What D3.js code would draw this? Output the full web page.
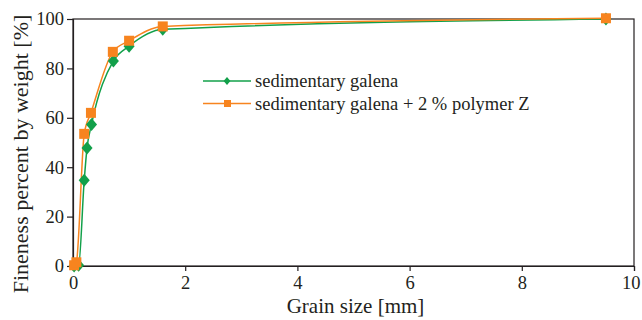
<!DOCTYPE html>
<html><head><meta charset="utf-8">
<script src="https://cdn.jsdelivr.net/npm/d3@7"></script>
</head>
<body style="margin:0"><svg id="c" width="642" height="320" font-family="Times New Roman"></svg>
<script>
const galenaX = [0.02, 0.1, 0.2, 0.25, 0.33, 0.72, 1.0, 1.6, 9.5];
const galenaY = [0, 0.3, 34.7, 47.8, 57.3, 83, 89, 95.8, 100];
const polymerX = [0.02, 0.06, 0.2, 0.32, 0.71, 1.0, 1.6, 9.5];
const polymerY = [0.3, 1.5, 53.5, 62, 86.7, 91.2, 97, 100.3];
const xTicks = [0, 2, 4, 6, 8, 10];
const yTicks = [0, 20, 40, 60, 80, 100];
const seriesNames = ["sedimentary galena", "sedimentary galena + 2 % polymer Z"];
const colors = ["#12a04a", "#f7841f"];
const INK = "#231f20";
const FONT = "Times New Roman";

const svg = d3.select("#c");
const L = 73, R = 634, T = 19, B = 266;
const x = d3.scaleLinear().domain([0, 10]).range([L, R]);
const y = d3.scaleLinear().domain([0, 100]).range([B, T]);

svg.append("rect").attr("x", L).attr("y", T).attr("width", R - L).attr("height", B - T)
  .attr("fill", "none").attr("stroke", INK).attr("stroke-width", 1.2);

const xa = svg.append("g").attr("transform", `translate(0,${B})`)
  .call(d3.axisBottom(x).tickValues(xTicks).tickSize(5).tickPadding(5).tickFormat(d3.format("d")));
const ya = svg.append("g").attr("transform", `translate(${L},0)`)
  .call(d3.axisLeft(y).tickValues(yTicks).tickSize(6).tickPadding(3).tickFormat(d3.format("d")));
[xa, ya].forEach(a => {
  a.attr("font-family", FONT).attr("font-size", 18.5);
  a.select(".domain").attr("stroke", INK).attr("stroke-width", 1.2);
  a.selectAll(".tick line").attr("stroke", INK).attr("stroke-width", 1.2);
  a.selectAll("text").attr("fill", INK).attr("font-family", FONT).attr("font-size", 18.5);
});
// keep the last x tick label inside the picture (right edge near x = 640)
xa.selectAll(".tick").filter(d => d === 10).select("text").attr("text-anchor", "end").attr("dx", 6);

svg.append("text").attr("x", (L + R) / 2 + 2).attr("y", 313).attr("text-anchor", "middle")
  .attr("font-family", FONT).attr("font-size", 21).attr("fill", INK).text("Grain size [mm]");
svg.append("text").attr("transform", `translate(28,154) rotate(-90)`).attr("text-anchor", "middle")
  .attr("font-family", FONT).attr("font-size", 22).attr("fill", INK).text("Fineness percent by weight [%]");

const line = d3.line().x(d => x(d[0])).y(d => y(d[1])).curve(d3.curveMonotoneX);
const galena = galenaX.map((v, i) => [v, galenaY[i]]);
const polymer = polymerX.map((v, i) => [v, polymerY[i]]);

const diamond = (s) => `M0,${-s}L${s * 0.85},0L0,${s}L${-s * 0.85},0Z`;

svg.append("path").datum(galena).attr("d", line).attr("fill", "none").attr("stroke", colors[0]).attr("stroke-width", 1.5);
svg.append("path").datum(polymer).attr("d", line).attr("fill", "none").attr("stroke", colors[1]).attr("stroke-width", 1.5);

svg.append("g").selectAll("path").data(galena).join("path")
  .attr("transform", d => `translate(${x(d[0])},${y(d[1])})`).attr("d", diamond(6.5)).attr("fill", colors[0]);
svg.append("g").selectAll("rect").data(polymer).join("rect")
  .attr("x", d => x(d[0]) - 5).attr("y", d => y(d[1]) - 5).attr("width", 10).attr("height", 10).attr("fill", colors[1]);

const lg = svg.append("g");
[0, 1].forEach(i => {
  const ly = 81 + i * 22.5;
  lg.append("line").attr("x1", 203).attr("x2", 251).attr("y1", ly).attr("y2", ly).attr("stroke", colors[i]).attr("stroke-width", 1.5);
  if (i === 0) lg.append("path").attr("transform", `translate(227,${ly})`).attr("d", diamond(4)).attr("fill", colors[0]);
  else lg.append("rect").attr("x", 224).attr("y", ly - 3.5).attr("width", 7).attr("height", 7).attr("fill", colors[1]);
  lg.append("text").attr("x", 255).attr("y", ly + 6).attr("font-family", FONT).attr("font-size", 18.5).attr("fill", INK).text(seriesNames[i]);
});
</script></body></html>
